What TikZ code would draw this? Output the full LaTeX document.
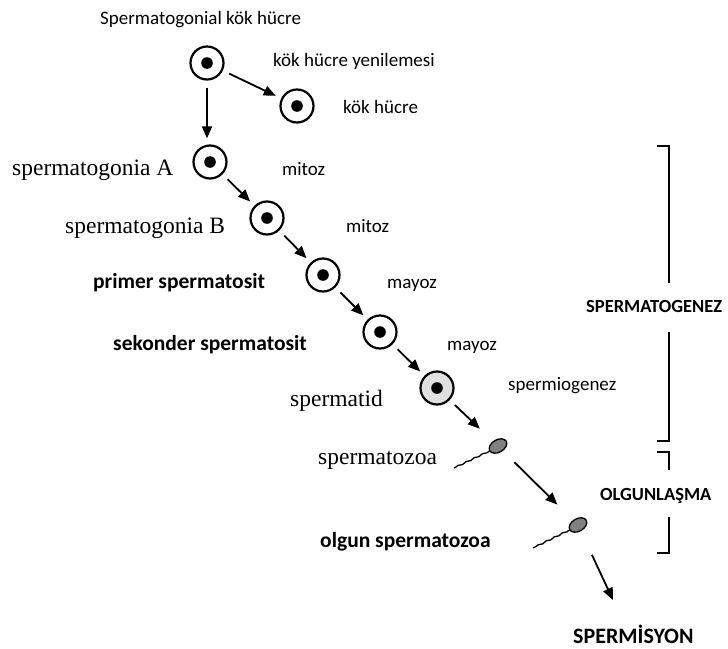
\documentclass[tikz,border=0pt]{standalone}
\usepackage{fontspec}
\setmainfont{Carlito}
\newfontfamily\serifface{Liberation Serif}
\usetikzlibrary{arrows.meta,shapes.geometric,decorations.pathmorphing}
\begin{document}
\begin{tikzpicture}[x=1pt,y=-1pt,
  lab/.style={font=\fontsize{19}{22}\selectfont, inner sep=0pt, anchor=base west},
  blab/.style={font=\fontsize{21.5}{25}\selectfont\bfseries, inner sep=0pt, anchor=base west},
  caplab/.style={font=\fontsize{18.5}{21}\selectfont\bfseries, inner sep=0pt, anchor=base west},
  slab/.style={font=\fontsize{23.5}{27}\selectfont\serifface, inner sep=0pt, anchor=base west},
  cell/.style={circle, draw, line width=2.2pt, minimum size=33pt, inner sep=0pt, fill=white,
    path picture={\fill[black] (path picture bounding box.center) circle (5.8pt);}},
  tidcell/.style={cell, fill=black!12},
  head/.style={ellipse, draw, line width=1.3pt, fill=black!50, minimum width=19pt, minimum height=12.5pt, inner sep=0pt, rotate=30},
  tail/.style={line width=1.3pt, decorate, decoration={snake, amplitude=0.6pt, segment length=9pt}},
  arr/.style={line width=1.8pt, -{Triangle[length=12pt,width=10pt]}, shorten <=7pt, shorten >=6pt},
  brk/.style={line width=1.6pt}
]
\useasboundingbox (0,0) rectangle (728,648);

% cells
\node[cell] (c0) at (207,63) {};
\node[cell] (kok) at (297,106) {};
\node[cell] (ga) at (210,162) {};
\node[cell] (gb) at (267,218) {};
\node[cell] (ps) at (323,275) {};
\node[cell] (ss) at (380,332) {};
\node[tidcell] (st) at (437,388) {};

% sperm heads and tails
\node[head] (h1) at (498,446) {};
\coordinate (t1) at (454,468);
\draw[tail] (h1.west) -- (t1);
\node[head] (h2) at (578,525) {};
\coordinate (t2) at (533,548);
\draw[tail] (h2.west) -- (t2);
\coordinate (e3) at (613,600);

% arrows
\draw[arr] (c0) -- (c0 |- ga.north);
\draw[arr] (c0) -- (kok);
\draw[arr] (ga) -- (gb);
\draw[arr] (gb) -- (ps);
\draw[arr] (ps) -- (ss);
\draw[arr] (ss) -- (st);
\draw[arr, shorten >=18pt] (st) -- (h1);
\draw[arr, shorten <=16pt, shorten >=22pt] (h1) -- (h2);
\draw[arr, shorten <=26pt, shorten >=0pt] (h2) -- (e3);

% labels
\node[lab] (l0) at (100,24) {Spermatogonial kök hücre};
\node[lab] (l1) at (273,66) {kök hücre yenilemesi};
\node[lab] (l2) at (343,113) {kök hücre};
\node[slab] (l3) at (12,175) {spermatogonia A};
\node[lab] (l4) at (282,175) {mitoz};
\node[slab] (l5) at (65,233) {spermatogonia B};
\node[lab] (l6) at (346,232) {mitoz};
\node[blab] (l7) at (93,288) {primer spermatosit};
\node[lab] (l8) at (387,288) {mayoz};
\node[blab] (l9) at (113,350) {sekonder spermatosit};
\node[lab] (l10) at (447,350) {mayoz};
\node[slab] (l11) at (290,406) {spermatid};
\node[lab] (l12) at (508,390) {spermiogenez};
\node[slab] (l13) at (318,464) {spermatozoa};
\node[blab] (l14) at (320,547) {olgun spermatozoa};
\node[caplab] (l15) at (586,312) {SPERMATOGENEZ};
\node[caplab] (l16) at (600,500) {OLGUNLAŞMA};
\node[caplab, font=\fontsize{22}{25}\selectfont\bfseries] (l17) at (573,643) {SPERMİSYON};

% brackets
\draw[brk] (657,146) -- (669,146) -- (669,283);
\draw[brk] (669,332) -- (669,441) -- (657,441);
\draw[brk] (657,452) -- (669,452) -- (669,470);
\draw[brk] (669,517) -- (669,553) -- (657,553);
\end{tikzpicture}
\end{document}
